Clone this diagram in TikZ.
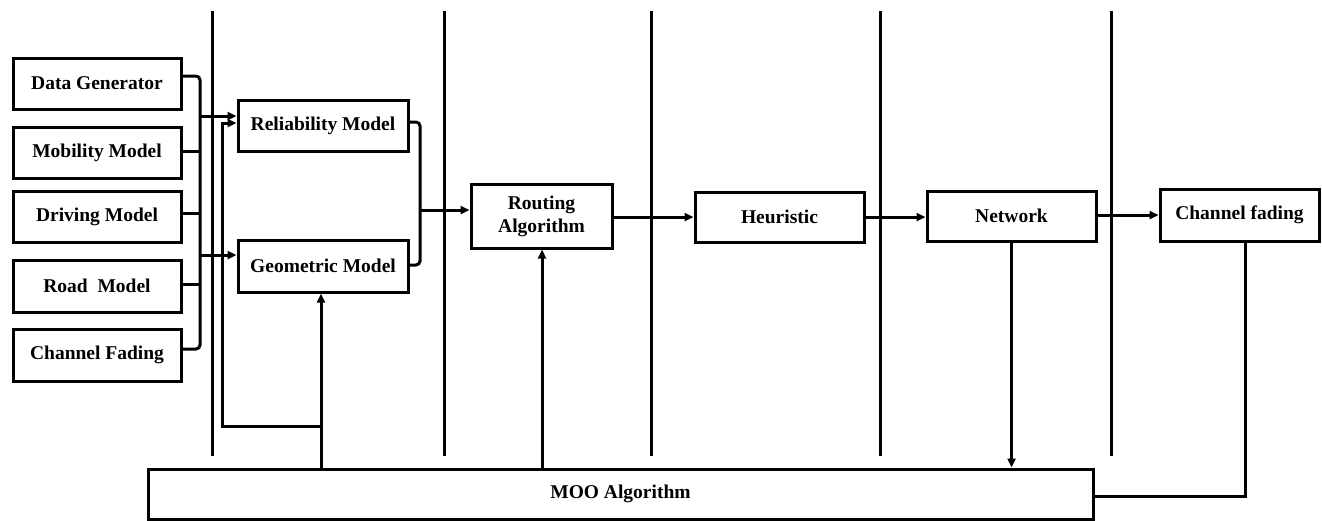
\documentclass[tikz,border=0pt]{standalone}
\usepackage{fontspec}
\setmainfont{Liberation Serif}
\usetikzlibrary{arrows.meta}
\tikzset{
  box/.style={draw, line width=3pt, inner sep=0pt, align=center,
    font=\fontsize{19.5}{23}\selectfont\bfseries},
  conn/.style={line width=3pt},
  arr/.style={conn, -{Triangle[length=9pt,width=8pt]}},
  sep/.style={line width=3pt}
}
\begin{document}
\begin{tikzpicture}[x=1pt,y=-1pt]
\useasboundingbox (0,0) rectangle (1322,520);
% separators
\foreach \x in {212,444,651,880,1111} \draw[sep] (\x,11) -- (\x,456);
% boxes
\node[box, minimum width=168pt, minimum height=51pt] (dg) at (97,83.5) {Data Generator};
\node[box, minimum width=168pt, minimum height=51pt] (mm) at (97,152.5) {Mobility Model};
\node[box, minimum width=168pt, minimum height=51pt] (dm) at (97,216.5) {Driving Model};
\node[box, minimum width=168pt, minimum height=52pt] (rm) at (97,286) {Road~~Model};
\node[box, minimum width=168pt, minimum height=52pt] (cf) at (97,355) {Channel Fading};
\node[box, minimum width=170pt, minimum height=51pt] (rel) at (323,125.5) {Reliability Model};
\node[box, minimum width=170pt, minimum height=52pt] (geo) at (323,266) {Geometric Model};
\node[box, minimum width=141pt, minimum height=64pt] (rout) at (541.5,216) {Routing\\Algorithm};
\node[box, minimum width=169pt, minimum height=50pt] (heu) at (779.5,217) {Heuristic};
\node[box, minimum width=169pt, minimum height=50pt] (net) at (1011.5,216) {Network};
\node[box, minimum width=159pt, minimum height=52pt] (chf) at (1239.5,215) {Channel fading};
\node[box, minimum width=945pt, minimum height=50pt] (moo) at (620.5,494) {MOO Algorithm};
% helper coordinates
\coordinate (bt) at (200,76);
\coordinate (bb) at (200,349);
\coordinate (br) at (200,116);
\coordinate (bg) at (200,255);
\coordinate (mg) at (321,469);
\coordinate (fb) at (321,426);
\coordinate (fl) at (222,426);
\coordinate (ft) at (222,123);
\coordinate (jt) at (420,122);
\coordinate (jb) at (420,265);
\coordinate (jm) at (420,210);
\coordinate (mr) at (542,469);
% left bus
\draw[conn, rounded corners=4pt] ([yshift=7.5pt]dg.east) -- (bt) -- (bb) -- ([yshift=6pt]cf.east);
\draw[conn] ([yshift=1.5pt]mm.east) -- ([yshift=1.5pt]mm.east -| bt);
\draw[conn] ([yshift=3.5pt]dm.east) -- ([yshift=3.5pt]dm.east -| bt);
\draw[conn] ([yshift=2pt]rm.east) -- ([yshift=2pt]rm.east -| bt);
\draw[arr] (br) -- (br -| rel.west);
\draw[arr] (bg) -- (bg -| geo.west);
% feedback from MOO
\draw[arr] (mg) -- (mg |- geo.south);
\draw[arr] (fb) -- (fl) -- (ft) -- (ft -| rel.west);
% merge into routing
\draw[conn, rounded corners=4pt] ([yshift=3.5pt]rel.east) -- (jt) -- (jb) -- ([yshift=1pt]geo.east);
\draw[arr] (jm) -- (jm -| rout.west);
\draw[arr] ([yshift=-1pt]rout.east) -- ([yshift=-1pt]rout.east -| heu.west);
\draw[arr] (heu.east) -- (heu.east -| net.west);
\draw[arr] ([yshift=1pt]net.east) -- ([yshift=1pt]net.east -| chf.west);
% to/from MOO
\draw[arr] (mr) -- (mr |- rout.south);
\draw[arr] (net.south) -- (net.south |- moo.north);
\draw[conn] ([xshift=5.5pt]chf.south) |- ([yshift=-2pt]moo.east);
\end{tikzpicture}
\end{document}
